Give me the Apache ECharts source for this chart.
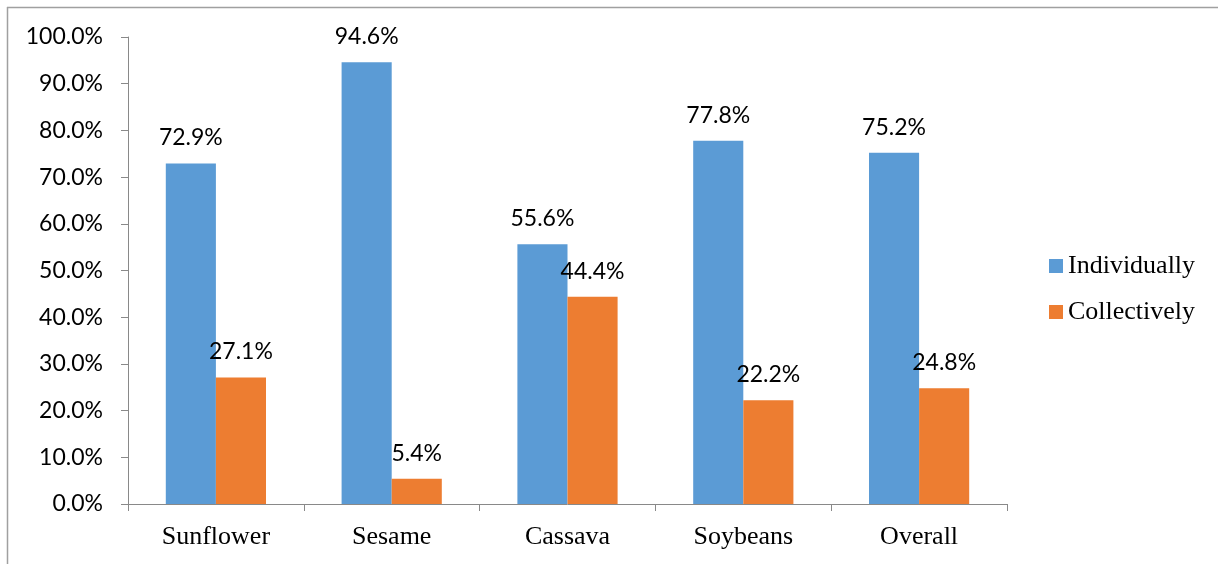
<!DOCTYPE html>
<html>
<head>
<meta charset="utf-8">
<script src="https://cdn.jsdelivr.net/npm/echarts@6/dist/echarts.min.js"></script>
<style>
  html, body { margin: 0; padding: 0; background: #fff; }
  #chart { width: 1218px; height: 564px; }
</style>
</head>
<body>
<div id="chart"></div>
<script>
// Crops and share of farmers selling individually vs collectively (%)
const categories = ['Sunflower', 'Sesame', 'Cassava', 'Soybeans', 'Overall'];
const individually = [72.9, 94.6, 55.6, 77.8, 75.2];
const collectively = [27.1, 5.4, 44.4, 22.2, 24.8];
const seriesNames = ['Individually', 'Collectively'];

const sansFont = 'Lato, "Open Sans", sans-serif';
const serifFont = '"Liberation Serif", "DejaVu Serif", serif';
const axisGray = '#898989';

const pct = v => v.toFixed(1) + '%';

const barLabel = {
  show: true,
  position: 'top',
  distance: 14,
  fontFamily: sansFont,
  fontSize: 23,
  color: '#000',
  formatter: p => pct(p.value)
};

const chart = echarts.init(document.getElementById('chart'), null, { renderer: 'canvas' });
chart.setOption({
  backgroundColor: '#fff',
  animation: false,
  grid: { left: 128, right: 211, top: 37, bottom: 60, containLabel: false },
  legend: {
    orient: 'vertical',
    left: 1044,
    top: 248,
    itemWidth: 14,
    itemHeight: 14,
    itemGap: 20,
    icon: 'rect',
    textStyle: { fontFamily: serifFont, fontSize: 26, color: '#000' },
    data: seriesNames
  },
  xAxis: {
    type: 'category',
    data: categories,
    boundaryGap: true,
    axisLine: { show: true, lineStyle: { color: axisGray, width: 1 } },
    axisTick: { show: true, length: 7, alignWithLabel: false, lineStyle: { color: axisGray } },
    axisLabel: { margin: 20, fontFamily: serifFont, fontSize: 26, color: '#000' },
    splitLine: { show: false }
  },
  yAxis: {
    type: 'value',
    min: 0,
    max: 100,
    interval: 10,
    axisLine: { show: true, lineStyle: { color: axisGray, width: 1 } },
    axisTick: { show: true, length: 7, lineStyle: { color: axisGray } },
    axisLabel: { margin: 25, fontFamily: sansFont, fontSize: 23, color: '#000', formatter: v => pct(v) },
    splitLine: { show: false }
  },
  series: [
    {
      name: seriesNames[0],
      type: 'bar',
      data: individually,
      barGap: '0%',
      barCategoryGap: '43%',
      itemStyle: { color: '#5B9BD5' },
      label: barLabel
    },
    {
      name: seriesNames[1],
      type: 'bar',
      data: collectively,
      barGap: '0%',
      barCategoryGap: '43%',
      itemStyle: { color: '#ED7D31' },
      label: barLabel
    }
  ],
  graphic: [
    { type: 'line', shape: { x1: 7, y1: 7.5, x2: 1218, y2: 7.5 }, style: { stroke: '#a0a0a0', lineWidth: 1.5 }, silent: true },
    { type: 'line', shape: { x1: 7.5, y1: 7, x2: 7.5, y2: 564 }, style: { stroke: '#a0a0a0', lineWidth: 1.5 }, silent: true }
  ]
});
</script>
</body>
</html>
